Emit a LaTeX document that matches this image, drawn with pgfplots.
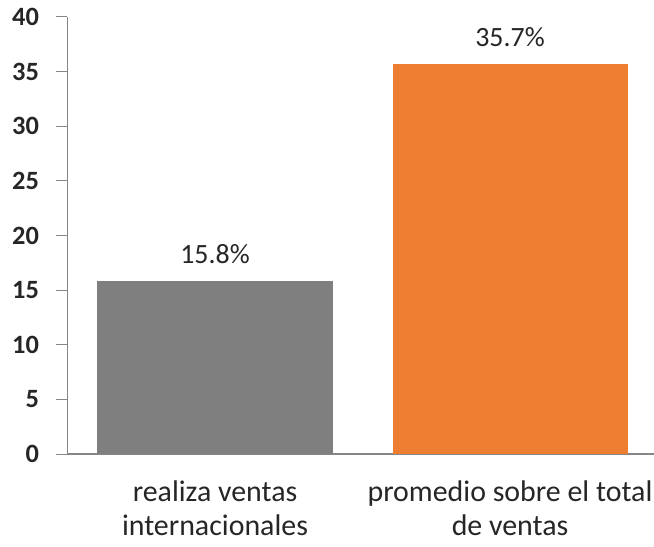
\documentclass[border=0pt]{standalone}
\usepackage{fontspec}
\setmainfont{Carlito}
\usepackage{pgfplots}
\pgfplotsset{compat=1.18}
\definecolor{axisgray}{HTML}{868686}
\definecolor{bargray}{HTML}{7F7F7F}
\definecolor{barorange}{HTML}{ED7D31}
\definecolor{txt}{HTML}{262626}
\begin{document}
\begin{tikzpicture}
\useasboundingbox (-67.5bp,-93bp) rectangle (586.5bp,454bp);
\begin{axis}[
    at={(0,0)}, anchor=south west,
    scale only axis,
    width=590bp, height=437bp,
    xmin=-0.5, xmax=1.5,
    ymin=0, ymax=40,
    ytick={0,5,...,40},
    xtick={0,1},
    xticklabels={{realiza ventas\\internacionales},{promedio sobre el total\\de ventas}},
    x tick label style={align=center, font=\fontsize{30}{34}\selectfont, text=txt, yshift=-12bp},
    major x tick style={draw=none},
    extra x ticks={-0.5,0.5,1.5},
    extra x tick labels={},
    extra x tick style={major tick length=11bp, tick style={draw=axisgray, line width=1bp}},
    y tick label style={font=\fontsize{26.5}{26.5}\bfseries, text=txt, xshift=-14bp},
    /pgf/number format/assume math mode=true,
    axis x line=bottom, axis y line=left,
    axis line style={-, draw=axisgray, line width=1.2bp},
    tick align=outside,
    major tick length=11bp,
    ytick style={draw=axisgray, line width=1bp},
    ybar, bar width=235bp, bar shift=0pt,
    nodes near coords={\pgfmathprintnumber[fixed,precision=1,fixed zerofill]{\pgfplotspointmeta}\%},
    nodes near coords style={font=\fontsize{28}{28}\selectfont, text=txt, yshift=14bp},
    clip=false,
]
\addplot[fill=bargray, draw=none] coordinates {(0,15.8)};
\addplot[fill=barorange, draw=none] coordinates {(1,35.7)};
\end{axis}
\end{tikzpicture}
\end{document}
